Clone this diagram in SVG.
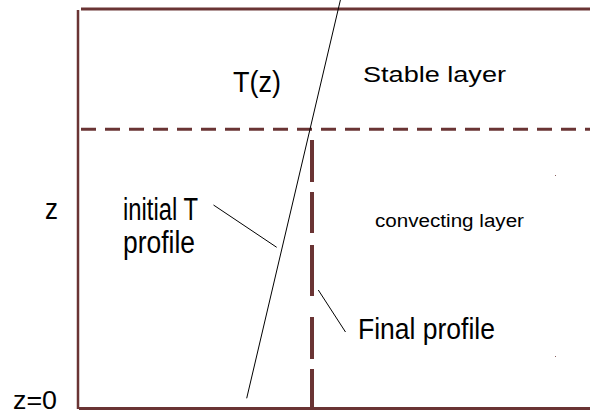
<svg xmlns="http://www.w3.org/2000/svg" width="590" height="415" viewBox="0 0 590 415">
  <style>
    .frame { stroke: #6a3434; fill: none; }
    .thin { stroke: #000; stroke-width: 1; fill: none; }
    text { font-family: "Liberation Sans", Arial, sans-serif; fill: #000; }
  </style>
  <rect width="590" height="415" fill="#fff"/>
  <g id="frame">
    <line class="frame" x1="78" y1="10" x2="78" y2="409" stroke-width="2.5"/>
    <line class="frame" x1="81" y1="9" x2="590" y2="9" stroke-width="3"/>
    <line class="frame" x1="79" y1="408.5" x2="590" y2="408.5" stroke-width="3"/>
    <line id="interface" class="frame" x1="81" y1="129.3" x2="590" y2="129.3" stroke-width="3" stroke-dasharray="15 9"/>
  </g>
  <g id="connectors">
    <line id="initial-profile" class="thin" x1="340.4" y1="0" x2="246.7" y2="398.3"/>
    <path id="final-profile" class="frame" stroke-width="4" d="M312 140V182M312 192V233M312 245V296M312 317V359M312 369V408"/>
    <line class="thin" x1="213.5" y1="205" x2="276.7" y2="247.3"/>
    <line class="thin" x1="318.3" y1="290" x2="345.5" y2="332"/>
  </g>
  <g id="labels">
    <text x="233" y="92" font-size="30" textLength="48" lengthAdjust="spacingAndGlyphs">T(z)</text>
    <text x="363" y="82" font-size="22" textLength="143" lengthAdjust="spacingAndGlyphs">Stable layer</text>
    <text x="123" y="220" font-size="31" textLength="75" lengthAdjust="spacingAndGlyphs">initial T</text>
    <text x="123" y="253" font-size="31" textLength="72" lengthAdjust="spacingAndGlyphs">profile</text>
    <text x="45" y="219" font-size="29" textLength="13" lengthAdjust="spacingAndGlyphs">z</text>
    <text x="13" y="409" font-size="25" textLength="44" lengthAdjust="spacingAndGlyphs">z=0</text>
    <text x="358" y="339" font-size="29" textLength="137" lengthAdjust="spacingAndGlyphs">Final profile</text>
    <text x="375" y="227" font-size="18" textLength="149" lengthAdjust="spacingAndGlyphs">convecting layer</text>
  </g>
  <g id="specks" fill="#8a6060">
    <rect x="555" y="175" width="1" height="1"/>
    <rect x="555" y="356" width="1" height="1"/>
  </g>
</svg>
